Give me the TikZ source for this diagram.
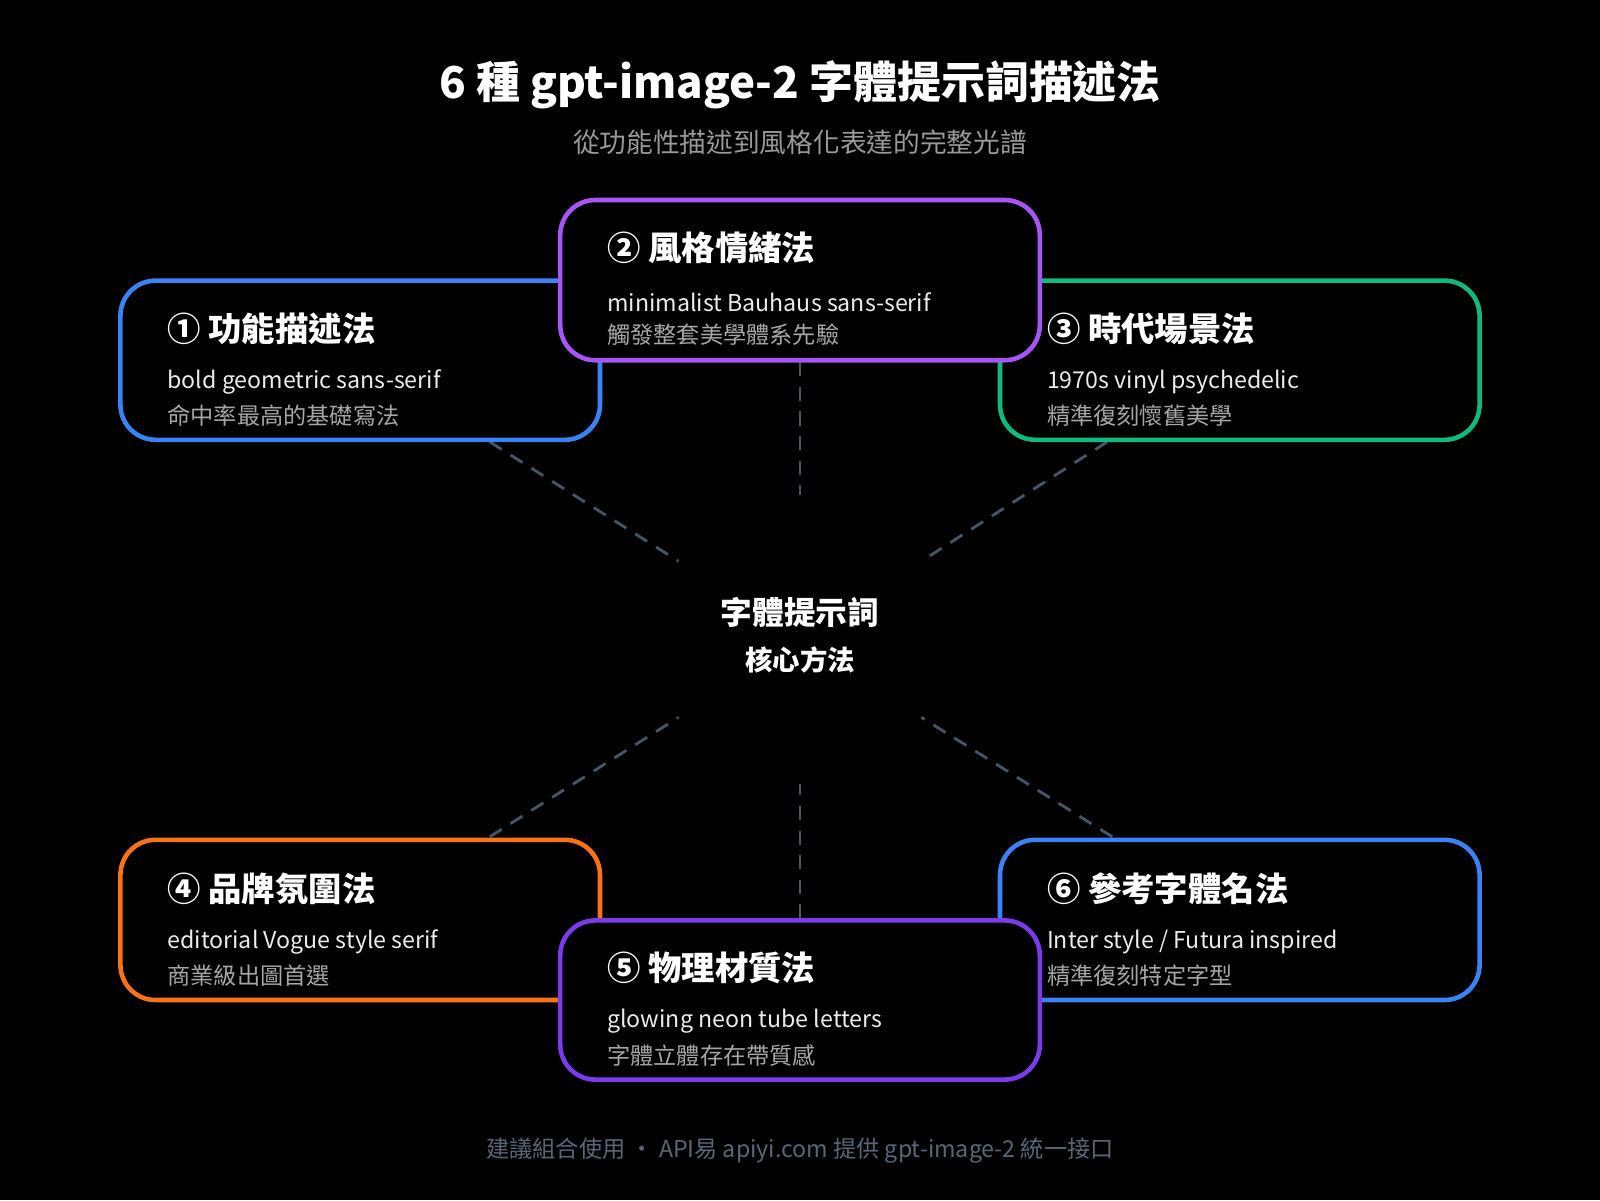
\documentclass[tikz,border=0pt]{standalone}
\usepackage{fontspec}
\setmainfont{Noto Sans CJK TC}
\begin{document}
\begin{tikzpicture}[x=0.010204cm,y=-0.010204cm,
  box/.style={draw=#1,line width=1.3pt,rounded corners=10pt,fill=black},
  head/.style={anchor=west,text=white,font=\fontsize{9.5}{11}\selectfont\bfseries},
  en/.style={anchor=west,text=black!8,font=\fontsize{6.6}{8}\selectfont},
  zh/.style={anchor=west,text=gray!70,font=\fontsize{6.6}{8}\selectfont},
  dashln/.style={draw=slate,line width=0.8pt,dash pattern=on 4pt off 3pt}]
\definecolor{slate}{HTML}{475569}
\definecolor{cblue}{HTML}{3B82F6}
\definecolor{cgreen}{HTML}{10B981}
\definecolor{cpurp}{HTML}{A855F7}
\definecolor{cviol}{HTML}{7C3AED}
\definecolor{corange}{HTML}{F97316}
\fill[black] (0,0) rectangle (1568,1176);
\useasboundingbox (0,0) rectangle (1568,1176);
\node[text=white,font=\fontsize{12.5}{14}\selectfont\bfseries] (title) at (784,83) {6 種 gpt-image-2 字體提示詞描述法};
\node[text=gray!80,font=\fontsize{7.6}{9}\selectfont] (sub) at (784,139) {從功能性描述到風格化表達的完整光譜};
% dashed
\coordinate (a1) at (480,433); \coordinate (b1) at (665,550);
\coordinate (a2) at (784,355); \coordinate (b2) at (784,485);
\coordinate (a3) at (1085,433); \coordinate (b3) at (903,550);
\coordinate (a4) at (480,820); \coordinate (b4) at (665,703);
\coordinate (a5) at (784,900); \coordinate (b5) at (784,768);
\coordinate (a6) at (1090,820); \coordinate (b6) at (903,703);
\foreach \i in {1,...,6}{\draw[dashln] (a\i) -- (b\i);}
\node[text=white,font=\fontsize{9}{11}\selectfont\bfseries] (c1) at (784,600) {字體提示詞};
\node[text=white,font=\fontsize{7.8}{9}\selectfont\bfseries] (c2) at (784,647) {核心方法};
% boxes
\draw[box=cblue] (118,275) rectangle (588,431);
\node[head] (h1) at (152,322) {① 功能描述法};
\node[en] at (152,374) {bold geometric sans-serif};
\node[zh] at (152,407) {命中率最高的基礎寫法};
\draw[box=cgreen] (980,275) rectangle (1450,431);
\node[head] (h3) at (1014,322) {③ 時代場景法};
\node[en] at (1014,374) {1970s vinyl psychedelic};
\node[zh] at (1014,407) {精準復刻懷舊美學};
\draw[box=cpurp] (549,196) rectangle (1019,353);
\node[head] (h2) at (583,243) {② 風格情緒法};
\node[en] at (583,296) {minimalist Bauhaus sans-serif};
\node[zh] at (583,328) {觸發整套美學體系先驗};
\draw[box=corange] (118,823) rectangle (588,980);
\node[head] (h4) at (152,871) {④ 品牌氛圍法};
\node[en] at (152,923) {editorial Vogue style serif};
\node[zh] at (152,956) {商業級出圖首選};
\draw[box=cblue] (980,823) rectangle (1450,980);
\node[head] (h6) at (1014,871) {⑥ 參考字體名法};
\node[en] at (1014,923) {Inter style / Futura inspired};
\node[zh] at (1014,956) {精準復刻特定字型};
\draw[box=cviol] (549,902) rectangle (1019,1058);
\node[head] (h5) at (583,949) {⑤ 物理材質法};
\node[en] at (583,1001) {glowing neon tube letters};
\node[zh] at (583,1034) {字體立體存在帶質感};
\node[text=slate!90!white,font=\fontsize{6.6}{8}\selectfont] (foot) at (784,1128) {建議組合使用 · API易 apiyi.com 提供 gpt-image-2 統一接口};
\end{tikzpicture}
\end{document}
